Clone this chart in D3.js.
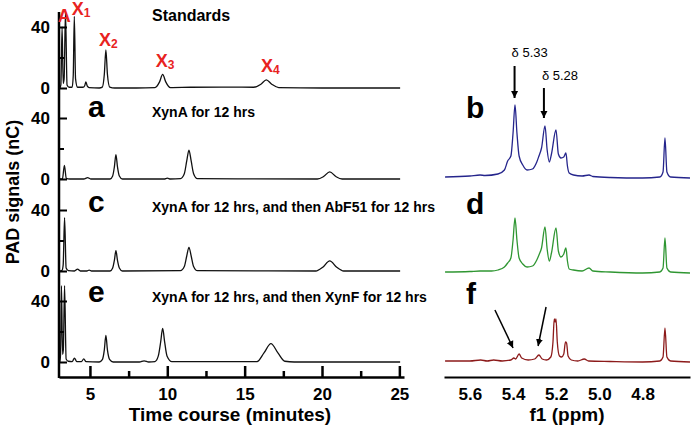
<!DOCTYPE html>
<html><head><meta charset="utf-8">
<script src="https://cdn.jsdelivr.net/npm/d3@7"></script>
<style>body{margin:0;background:#fff}svg{display:block;font-family:"Liberation Sans",Arial,Helvetica,sans-serif}</style>
</head><body><svg id="c" width="692" height="428"></svg>
<script>
// ---------- DATA ----------
const chromTitles = ["Standards", "XynA for 12 hrs", "XynA for 12 hrs, and then AbF51 for 12 hrs", "XynA for 12 hrs, and then XynF for 12 hrs"];
const chromLetters = ["", "a", "c", "e"];
// [time (min), PAD signal (nC)]
const standards = [[3.05,0],[3.12,2],[3.2,40],[3.27,3],[3.33,6],[3.42,50],[3.52,2],[3.65,0.5],[3.85,0.5],[3.92,8],[3.99,47],[4.07,6],[4.2,0.5],[4.55,0.5],[4.66,1.5],[4.74,4],[4.83,1.2],[4.95,0.3],[5.6,0],[5.8,0.6],[5.93,9],[6.03,25],[6.13,9],[6.28,0.6],[6.6,0],[8.0,0],[9.2,0.3],[9.5,4],[9.7,9],[9.9,4],[10.2,0.3],[11.5,0.5],[13.5,0.6],[15.6,0.5],[16.05,2.5],[16.4,5.3],[16.75,2.5],[17.2,0.3],[20,0],[25.05,0]];
const xynA = [[3.05,0],[3.22,0],[3.35,9],[3.47,0.4],[3.7,0],[4.6,0],[4.85,0.9],[5.05,0],[6.3,0],[6.47,2],[6.58,8],[6.68,16],[6.78,8],[6.9,2],[7.1,0],[9.8,0],[10.0,0.6],[10.2,0],[10.85,0.3],[11.1,3.5],[11.26,12],[11.4,19],[11.54,12],[11.7,3.5],[11.95,0.2],[19.7,0],[20.1,1.6],[20.5,4.7],[20.9,1.6],[21.3,0],[25.05,0]];
const xynAbF = [[3.05,0],[3.2,0.5],[3.27,4],[3.36,35],[3.46,2],[3.6,0.3],[4.0,0],[4.2,1.2],[4.38,0],[4.8,0],[4.95,0.6],[5.1,0],[6.3,0],[6.47,2],[6.58,7],[6.68,13.3],[6.78,7],[6.9,2],[7.1,0],[10.85,0.3],[11.1,3],[11.26,10],[11.4,15.5],[11.54,10],[11.7,3],[11.95,0.2],[19.6,0],[20.05,2.5],[20.5,6.7],[20.95,2.5],[21.4,0],[25.05,0]];
const xynXynF = [[3.05,0],[3.1,5],[3.16,50],[3.23,5],[3.28,8],[3.36,50],[3.46,2],[3.6,0.5],[3.85,0.3],[4.0,2.5],[4.15,0.3],[4.45,0.3],[4.6,2],[4.75,0.2],[5.6,0],[5.8,1.5],[5.93,8],[6.03,17.5],[6.13,8],[6.28,1.5],[6.5,0],[8.2,0],[8.5,0.8],[8.8,0],[9.2,0.3],[9.42,4],[9.57,13],[9.7,22],[9.83,13],[9.98,4],[10.3,0.3],[15.8,0.3],[16.25,6],[16.7,12],[17.15,6],[17.6,0.5],[18.2,0],[25.05,0]];
const chromSeries = [standards, xynA, xynAbF, xynXynF];
// peak names on the standards trace: [name, subscript, time, nC]
const stdLabels = [["A","",3.32,43],["X","1",4.22,48],["X","2",5.98,27.5],["X","3",9.65,13.8],["X","4",16.45,10.5]];
const timeTicks = [5, 10, 15, 20, 25];
const timeMinor = [7.5, 12.5, 17.5, 22.5];
const padTicks = [0, 40];
const padMinor = [20];

const nmrLetters = ["b", "d", "f"];
const nmrColors = ["#25258c", "#2f9632", "#8c1a1a"];
// [chemical shift (ppm), intensity (a.u.)]
const nmrB = [[5.715,1],[5.6,2],[5.553,3],[5.53,2.5],[5.47,4],[5.44,8],[5.425,17],[5.41,22],[5.4,45],[5.391,73],[5.382,45],[5.372,22],[5.355,13],[5.335,8],[5.31,9],[5.29,16],[5.28,22],[5.268,30],[5.252,52],[5.242,28],[5.232,16],[5.222,24],[5.201,48],[5.19,24],[5.178,20],[5.165,21],[5.155,25],[5.148,12],[5.14,5],[5.12,3],[5.08,2],[5.048,3],[5.03,1.5],[4.95,0.5],[4.8,0],[4.72,1],[4.705,6],[4.696,40],[4.687,6],[4.67,1],[4.58,0]];
const nmrD = [[5.715,1],[5.6,1.5],[5.553,2],[5.5,2],[5.47,3],[5.44,6],[5.425,10],[5.41,15],[5.4,33],[5.391,55],[5.382,33],[5.372,15],[5.355,9],[5.335,6],[5.31,7],[5.29,13],[5.28,18],[5.268,25],[5.252,46],[5.242,24],[5.232,12],[5.222,20],[5.201,45],[5.19,22],[5.178,16],[5.165,19],[5.155,25],[5.148,12],[5.14,4],[5.12,3],[5.08,2],[5.048,5],[5.03,2],[4.95,1],[4.8,0],[4.72,1],[4.705,5],[4.696,35],[4.687,5],[4.67,1],[4.58,0]];
const nmrF = [[5.715,1],[5.6,1],[5.55,2],[5.52,1],[5.49,2],[5.45,1],[5.41,2],[5.396,4],[5.388,3],[5.372,8],[5.36,4],[5.33,2],[5.3,3],[5.28,7],[5.265,3],[5.245,2],[5.225,5],[5.215,20],[5.209,43],[5.205,40],[5.201,43],[5.195,20],[5.185,6],[5.175,5],[5.165,8],[5.157,20],[5.152,19],[5.145,6],[5.13,2],[5.1,1],[5.07,3],[5.05,1],[4.95,0.5],[4.8,0],[4.72,1],[4.705,5],[4.696,34],[4.687,5],[4.67,1],[4.58,0]];
const nmrSeries = [nmrB, nmrD, nmrF];
const ppmTicks = [5.6, 5.4, 5.2, 5.0, 4.8];
// annotations: [label, ppm, tail intensity, tip intensity] on panel b
const shiftArrows = [["\u03b4 5.33", 5.393, 112, 80], ["\u03b4 5.28", 5.257, 90, 60]];
// arrows on panel f: [tail ppm, tail int, tip ppm, tip int]
const fArrows = [[5.484, 52, 5.40, 14], [5.247, 55, 5.284, 16]];

// ---------- DRAW ----------
const svg = d3.select("#c");
const red = "#e8231f";

// defs
svg.append("defs").append("marker").attr("id","ah").attr("viewBox","0 0 10 10")
  .attr("refX",10).attr("refY",5).attr("markerWidth",7).attr("markerHeight",9)
  .attr("markerUnits","userSpaceOnUse").attr("orient","auto")
  .append("path").attr("d","M0,0L10,5L0,10z").attr("fill","#000");

// ---- left: chromatograms ----
const x = d3.scaleLinear().domain([3, 25.3]).range([59, 404]);
const baseL = [88, 179, 271, 362];
const yL = baseL.map(b => d3.scaleLinear().domain([0, 40]).range([b, b - 61]));

chromSeries.forEach((s, i) => {
  const ln = d3.line().x(d => x(d[0])).y(d => yL[i](d[1])).curve(d3.curveMonotoneX);
  svg.append("path").attr("d", ln(s)).attr("fill","none").attr("stroke","#111").attr("stroke-width",1.3);
});

// y axes per panel
yL.forEach((ys, i) => {
  const g = svg.append("g").attr("transform","translate(59,0)")
    .call(d3.axisLeft(ys).tickValues(padTicks).tickSizeInner(-8).tickSizeOuter(0).tickPadding(9).tickFormat(d3.format("d")));
  g.select(".domain").remove();
  g.selectAll("line").attr("stroke","#000").attr("stroke-width",2);
  g.selectAll("text").attr("font-size",17).attr("font-weight","bold").attr("fill","#000").attr("font-family",null);
  const gm = svg.append("g").attr("transform","translate(59,0)")
    .call(d3.axisLeft(ys).tickValues(padMinor).tickSizeInner(-5).tickSizeOuter(0).tickFormat(""));
  gm.select(".domain").remove();
  gm.selectAll("line").attr("stroke","#000").attr("stroke-width",2);
});
svg.append("line").attr("x1",59).attr("x2",59).attr("y1",12).attr("y2",378).attr("stroke","#000").attr("stroke-width",2.5);

// x axis
const gx = svg.append("g").attr("transform","translate(0,377)")
  .call(d3.axisBottom(x).tickValues(timeTicks).tickSizeInner(-11).tickSizeOuter(0).tickPadding(11));
gx.select(".domain").attr("stroke","#000").attr("stroke-width",2.5);
gx.selectAll("line").attr("stroke","#000").attr("stroke-width",2.5);
gx.selectAll("text").attr("font-size",17).attr("font-weight","bold").attr("fill","#000");
const gxm = svg.append("g").attr("transform","translate(0,377)")
  .call(d3.axisBottom(x).tickValues(timeMinor).tickSizeInner(-6).tickSizeOuter(0).tickFormat(""));
gxm.select(".domain").remove();
gxm.selectAll("line").attr("stroke","#000").attr("stroke-width",2.5);
svg.selectAll(".tick text").attr("font-family",null);
svg.selectAll("g").attr("font-family",null);

// titles in chromatogram panels
const titleY = [21, 117, 212, 302];
chromTitles.forEach((t, i) => {
  svg.append("text").attr("x",152).attr("y",titleY[i]).attr("font-size", i === 0 ? 16 : 14)
    .attr("font-weight","bold").text(t);
  if (chromLetters[i]) svg.append("text").attr("x",88).attr("y",titleY[i]).attr("font-size",30)
    .attr("font-weight","bold").text(chromLetters[i]);
});

// red standard names
stdLabels.forEach(d => {
  const t = svg.append("text").attr("x", x(d[2])).attr("y", yL[0](d[3])).attr("fill", red)
    .attr("font-weight","bold").attr("font-size",18).attr("text-anchor","start");
  t.append("tspan").text(d[0]);
  if (d[1]) t.append("tspan").attr("font-size",12).attr("dy",2).text(d[1]);
  // center the main letter on the anchor
  const bb = t.node().getBBox();
  t.attr("x", x(d[2]) - 6.2);
});

// axis titles
svg.append("text").attr("transform","translate(19,192) rotate(-90)").attr("text-anchor","middle")
  .attr("font-size",18).attr("font-weight","bold").text("PAD signals (nC)");
svg.append("text").attr("x",230).attr("y",421).attr("text-anchor","middle")
  .attr("font-size",19).attr("font-weight","bold").text("Time course (minutes)");

// ---- right: NMR ----
const xN = d3.scaleLinear().domain([5.72, 4.58]).range([444, 690]);
const baseN = [178, 273, 362];
const yN = baseN.map(b => d3.scaleLinear().domain([0, 100]).range([b, b - 100]));
nmrSeries.forEach((s, i) => {
  const ln = d3.line().x(d => xN(d[0])).y(d => yN[i](d[1])).curve(d3.curveMonotoneX);
  svg.append("path").attr("d", ln(s)).attr("fill","none").attr("stroke", nmrColors[i]).attr("stroke-width",1.3);
});
const nmrLetterY = [118, 214, 304];
nmrLetters.forEach((l, i) => {
  svg.append("text").attr("x",466).attr("y",nmrLetterY[i]).attr("font-size",30).attr("font-weight","bold").text(l);
});
const gn = svg.append("g").attr("transform","translate(0,377)")
  .call(d3.axisBottom(xN).tickValues(ppmTicks).tickFormat(d3.format(".1f")).tickSizeInner(0).tickSizeOuter(0).tickPadding(11));
gn.attr("font-family",null);
gn.select(".domain").attr("stroke","#000").attr("stroke-width",2);
gn.selectAll("text").attr("font-size",17).attr("font-weight","bold").attr("fill","#000");
svg.append("text").attr("x",567).attr("y",421).attr("text-anchor","middle")
  .attr("font-size",19).attr("font-weight","bold").text("f1 (ppm)");

// shift annotations on b
const labelOff = [[-3, -9], [-2, -8]];
shiftArrows.forEach((a, i) => {
  const xa = xN(a[1]);
  const y1 = yN[0](a[2]), y2 = yN[0](a[3]);
  svg.append("line").attr("x1",xa).attr("x2",xa).attr("y1",y1).attr("y2",y2)
    .attr("stroke","#000").attr("stroke-width",2).attr("marker-end","url(#ah)");
  svg.append("text").attr("x", xa + labelOff[i][0]).attr("y", y1 + labelOff[i][1])
    .attr("font-size",13).text(a[0]);
});
// arrows on f
fArrows.forEach(a => {
  svg.append("line").attr("x1",xN(a[0])).attr("y1",yN[2](a[1])).attr("x2",xN(a[2])).attr("y2",yN[2](a[3]))
    .attr("stroke","#000").attr("stroke-width",1.5).attr("marker-end","url(#ah)");
});
</script></body></html>
